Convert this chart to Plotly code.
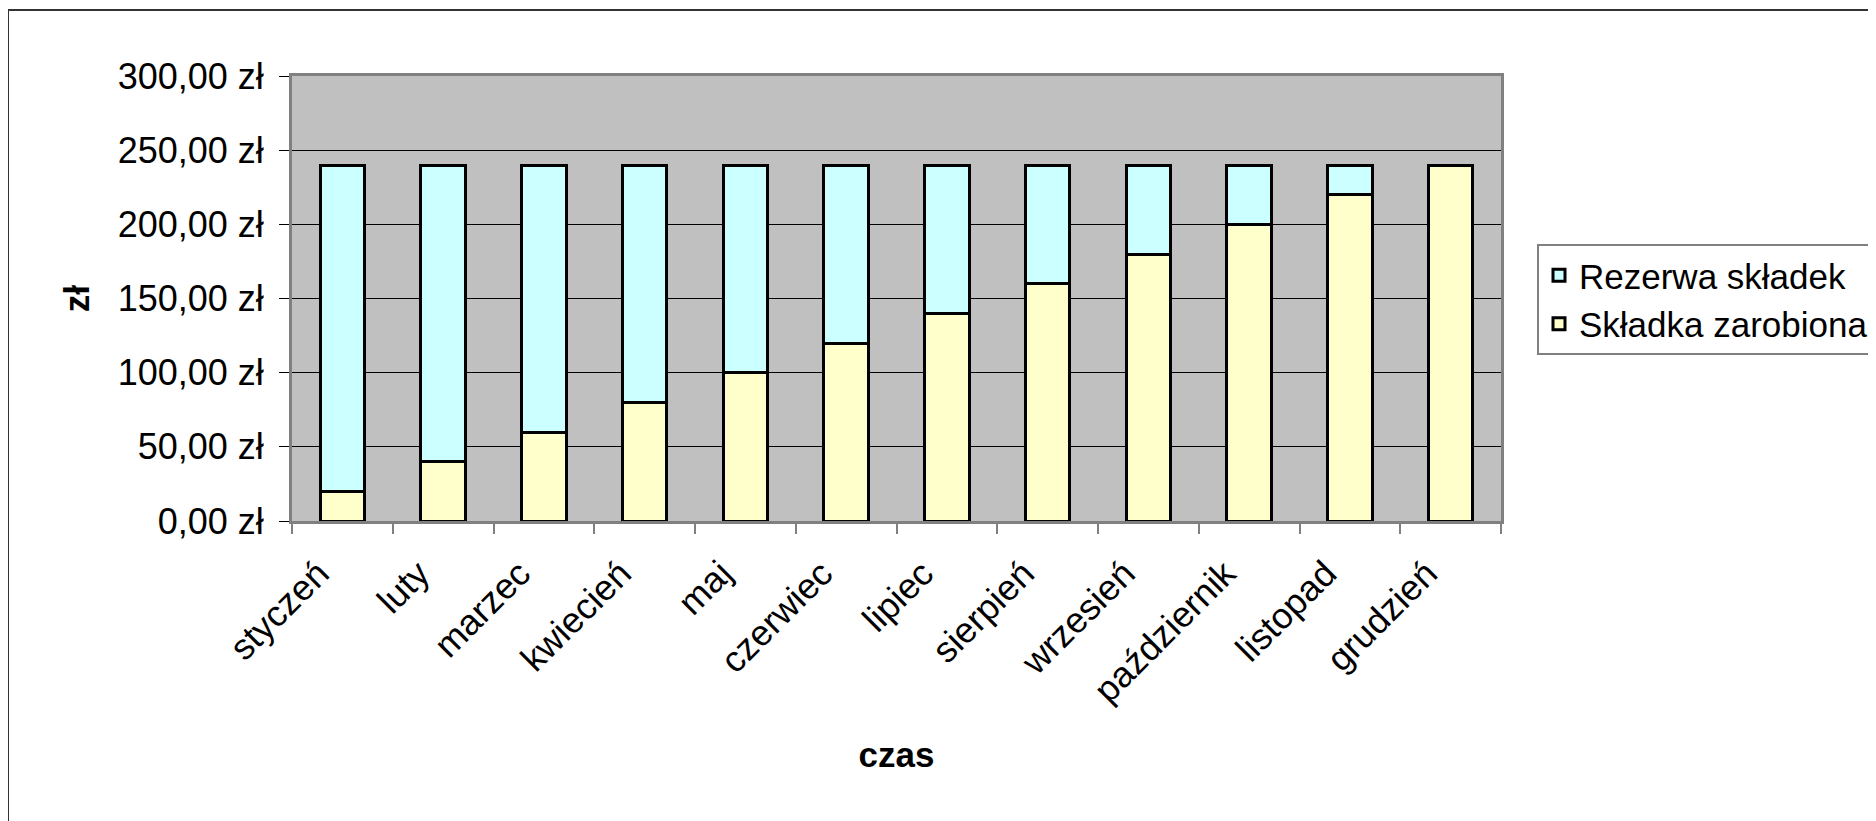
import plotly.graph_objects as go

months = ["styczeń", "luty", "marzec", "kwiecień", "maj", "czerwiec",
          "lipiec", "sierpień", "wrzesień", "październik", "listopad", "grudzień"]
skladka_zarobiona = [20, 40, 60, 80, 100, 120, 140, 160, 180, 200, 220, 240]
rezerwa_skladek = [220, 200, 180, 160, 140, 120, 100, 80, 60, 40, 20, 0]
y_tick_vals = [0, 50, 100, 150, 200, 250, 300]
y_tick_text = ["0,00 zł", "50,00 zł", "100,00 zł", "150,00 zł", "200,00 zł", "250,00 zł", "300,00 zł"]

FONT = "Liberation Sans, Arial, sans-serif"

fig = go.Figure()
fig.add_trace(go.Bar(
    x=months, y=skladka_zarobiona, name="Składka zarobiona",
    marker=dict(color="#FFFFCC", line=dict(color="black", width=3)),
    legendgroup="a",
))
fig.add_trace(go.Bar(
    x=months, y=rezerwa_skladek, name="Rezerwa składek",
    marker=dict(color="#CCFFFF", line=dict(color="black", width=3)),
    legendgroup="b",
))

# page body has an 8px default margin: work in figure coordinates
OFF = 8
W, H = 1876 - OFF, 821 - OFF
L, R, T, B = 292 - OFF, 1501 - OFF, 76 - OFF, 521 - OFF
pw, ph = R - L, B - T

fig.update_layout(
    width=W, height=H,
    margin=dict(l=L, r=W - R, t=T, b=H - B, autoexpand=False),
    barmode="stack",
    bargap=0.56,
    paper_bgcolor="white",
    plot_bgcolor="#C0C0C0",
    font=dict(family=FONT, size=36, color="black"),
    showlegend=True,
    legend=dict(
        x=(1537 - OFF - L) / pw, y=(B - (244 - OFF)) / ph, xanchor="left", yanchor="top",
        traceorder="reversed", tracegroupgap=32,
        bordercolor="#808080", borderwidth=2, bgcolor="white",
        font=dict(size=35),
    ),
    xaxis=dict(
        type="category",
        tickangle=-45,
        ticks="outside", ticklen=10, tickcolor="#808080", tickwidth=2,
        tickson="boundaries",
        showgrid=False,
        showline=True, linecolor="#808080", linewidth=3, mirror=True,
        ticklabelstandoff=14, ticklabelshift=-24,
        title=dict(text="<b>czas</b>", font=dict(size=35), standoff=34),
    ),
    yaxis=dict(
        range=[0, 300],
        tickvals=y_tick_vals, ticktext=y_tick_text,
        ticks="outside", ticklen=10, tickcolor="black", tickwidth=1,
        showgrid=True, gridcolor="black", gridwidth=1,
        showline=True, linecolor="#808080", linewidth=3, mirror=True,
        zeroline=False,
        ticklabelstandoff=8,
        title=dict(text="<b>zł</b>", font=dict(size=35), standoff=18),
    ),
)

# outer chart border (extends beyond the right and bottom edges)
fig.add_shape(
    type="rect", xref="paper", yref="paper",
    x0=(8 - OFF - L) / pw, x1=(W + 20 - L) / pw,
    y0=(B - (H + 20)) / ph, y1=(B - (10 - OFF)) / ph,
    line=dict(color="#333333", width=2), fillcolor="rgba(0,0,0,0)", layer="below",
)

fig.write_html("out.html")
